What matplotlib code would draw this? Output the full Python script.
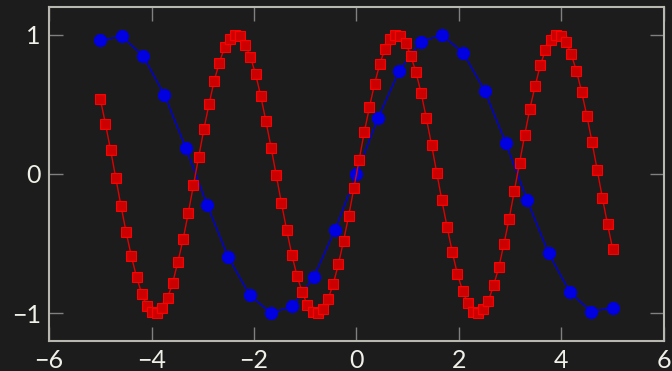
import numpy as np
import matplotlib
matplotlib.use('Agg')
import matplotlib.pyplot as plt

# blue: 25 samples
x_blue = [-5.0, -4.583, -4.167, -3.75, -3.333, -2.917, -2.5, -2.083, -1.667, -1.25, -0.833, -0.417,
          0.0, 0.417, 0.833, 1.25, 1.667, 2.083, 2.5, 2.917, 3.333, 3.75, 4.167, 4.583, 5.0]
y_blue = [0.96, 0.99, 0.85, 0.57, 0.19, -0.22, -0.6, -0.87, -1.0, -0.95, -0.74, -0.4,
          0.0, 0.4, 0.74, 0.95, 1.0, 0.87, 0.6, 0.22, -0.19, -0.57, -0.85, -0.99, -0.96]

# red: 100 samples
y_red = [0.54, 0.36, 0.17, -0.03, -0.23, -0.42, -0.59, -0.74, -0.86, -0.95, -0.99, -1.0, -0.96, -0.89,
         -0.78, -0.63, -0.47, -0.28, -0.08, 0.12, 0.32, 0.5, 0.67, 0.8, 0.91, 0.97, 1.0, 0.99, 0.93,
         0.84, 0.72, 0.56, 0.38, 0.19, -0.01, -0.21, -0.4, -0.58, -0.73, -0.85, -0.94, -0.99, -1.0,
         -0.97, -0.9, -0.79, -0.65, -0.48, -0.3, -0.1, 0.1, 0.3, 0.48, 0.65, 0.79, 0.9, 0.97, 1.0,
         0.99, 0.94, 0.85, 0.73, 0.58, 0.4, 0.21, 0.01, -0.19, -0.38, -0.56, -0.72, -0.84, -0.93,
         -0.99, -1.0, -0.97, -0.91, -0.8, -0.67, -0.5, -0.32, -0.12, 0.08, 0.28, 0.47, 0.63, 0.78,
         0.89, 0.96, 1.0, 0.99, 0.95, 0.86, 0.74, 0.59, 0.42, 0.23, 0.03, -0.17, -0.36, -0.54]
x_red = np.linspace(-5, 5, len(y_red))

x_ticks = [-6, -4, -2, 0, 2, 4, 6]
y_ticks = [-1, 0, 1]

bg = '#1c1c1c'
fig = plt.figure(figsize=(6.72, 3.71), dpi=100, facecolor=bg)
ax = fig.add_axes([0.073, 0.081, 0.915, 0.9])
ax.set_facecolor(bg)

ax.plot(x_blue, y_blue, color='#0000e0', lw=1, marker='o', ms=8.5, mec='#0000e0', mfc='#0000e0', zorder=3)
ax.plot(x_red, y_red, color='#e00000', lw=1, marker='s', ms=7.8, mfc='#cc0000', mec='#ff0000', mew=0.8, zorder=4)

ax.set_xlim(-6, 6)
ax.set_ylim(-1.2, 1.2)
ax.set_xticks(x_ticks)
ax.set_yticks(y_ticks)
ax.set_xticklabels(['\u2212' + str(-t) if t < 0 else str(t) for t in x_ticks])
ax.set_yticklabels(['\u2212' + str(-t) if t < 0 else str(t) for t in y_ticks])
for s in ax.spines.values():
    s.set_color('#b8b8b0')
    s.set_linewidth(1.5)
ax.tick_params(direction='in', length=10, width=1, color='#808080', labelcolor='#f0f0e8',
               labelsize=18, top=True, right=True, pad=6)
for lab in ax.get_xticklabels() + ax.get_yticklabels():
    lab.set_family('Lato')

fig.savefig('out.png', dpi=100, facecolor=bg)
